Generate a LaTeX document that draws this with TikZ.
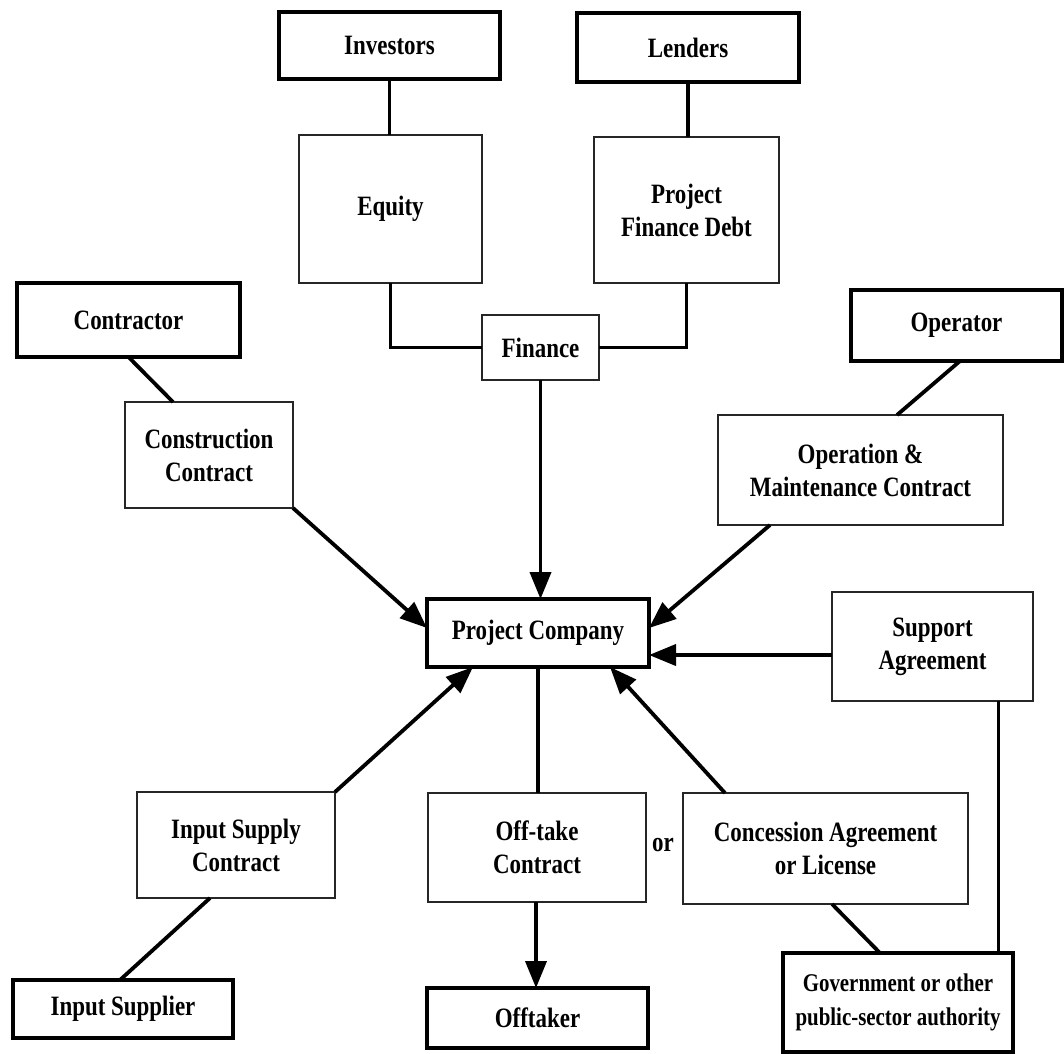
\documentclass[tikz,border=0pt]{standalone}
\usepackage{fontspec}
\setmainfont{Liberation Serif}[FakeStretch=0.82]
\usetikzlibrary{arrows.meta}
\tikzset{
  party/.style={draw=black, line width=4pt, fill=white, inner sep=0pt, outer sep=0pt,
    align=center, font=\fontsize{28}{33}\selectfont\bfseries},
  deal/.style={draw=black!85, line width=2.8pt, fill=white, inner sep=0pt, outer sep=0pt,
    align=center, font=\fontsize{28}{33}\selectfont\bfseries},
  link/.style={line width=3.8pt, black},
  flow/.style={link, -{Triangle[length=27pt,width=21pt]}},
}
\newcommand{\boxat}[6]{% style, name, x, y, width, height
  \node[#1, minimum width=#5pt, minimum height=#6pt] (#2) at (#3,#4)}
\begin{document}
\begin{tikzpicture}[x=1pt,y=-1pt]
\useasboundingbox (0,0) rectangle (1064,1053);

% parties
\boxat{party}{inv}{389.5}{45.5}{221}{67} {Investors};
\boxat{party}{lend}{688}{47.5}{222}{69} {Lenders};
\boxat{party}{contr}{128.5}{320}{223}{74} {Contractor};
\boxat{party}{oper}{956.5}{325.5}{211}{71} {Operator};
\boxat{party}{pc}{538}{633}{222}{68} {Project Company};
\boxat{party}{isup}{123}{1009}{220}{58} {Input Supplier};
\boxat{party}{offt}{537.5}{1018}{221}{60} {Offtaker};
\boxat{party, font=\fontsize{25.5}{34}\selectfont\bfseries}{gov}{898}{1002.5}{230}{99}
  {Government or other\\public-sector authority};

% agreements
\boxat{deal}{eq}{390.5}{209}{183}{148} {Equity};
\boxat{deal}{pfd}{686.5}{210}{185}{146} {Project\\Finance Debt};
\boxat{deal}{fin}{540.5}{347.5}{117}{65} {Finance};
\boxat{deal}{cc}{209}{455}{168}{106} {Construction\\Contract};
\boxat{deal}{om}{860.5}{470}{285}{110} {Operation \&\\Maintenance Contract};
\boxat{deal}{sup}{932.5}{646.5}{201}{109} {Support\\Agreement};
\boxat{deal}{isc}{236}{845}{198}{106} {Input Supply\\Contract};
\boxat{deal}{otc}{537}{847.5}{218}{109} {Off-take\\Contract};
\boxat{deal}{conc}{825.5}{848.5}{285}{111} {Concession Agreement\\or License};

\node[font=\fontsize{28}{33}\selectfont\bfseries, inner sep=0pt] (or) at (663,845) {or};

% finance structure
\draw[link] (inv.south) -- (inv.south |- eq.north);
\draw[link] (lend.south) -- (lend.south |- pfd.north);
\draw[link] (fin.west) -| (eq.south);
\draw[link] (fin.east) -| (pfd.south);
\draw[flow] (fin.south) -- (fin.south |- pc.north);

% contracts around the project company
\draw[link] (contr.south) -- ([xshift=-36pt]cc.north);
\draw[flow] (cc.south east) -- ([yshift=5pt]pc.west);
\draw[link] ([xshift=3.5pt]oper.south) -- ([xshift=36.5pt]om.north);
\draw[flow] ([xshift=-90.5pt]om.south) -- ([yshift=5pt]pc.east);
\draw[flow] ([yshift=-8.5pt]sup.west) -- ([yshift=-8.5pt]sup.west -| pc.east);
\draw[link] ([xshift=66pt]sup.south) -- ([xshift=66pt]sup.south |- gov.north);
\draw[flow] (isc.north east) -- ([xshift=-65pt]pc.south);
\draw[link] ([xshift=-26pt]isc.south) -- ([xshift=-3pt]isup.north);
\draw[link] (pc.south) -- (pc.south |- otc.north);
\draw[flow] ([xshift=-1pt]otc.south) -- ([xshift=-1pt]otc.south |- offt.north);
\draw[flow] ([xshift=-100.5pt]conc.north) -- ([xshift=72pt]pc.south);
\draw[link] ([xshift=6.5pt]conc.south) -- ([xshift=-18pt]gov.north);
\end{tikzpicture}
\end{document}
